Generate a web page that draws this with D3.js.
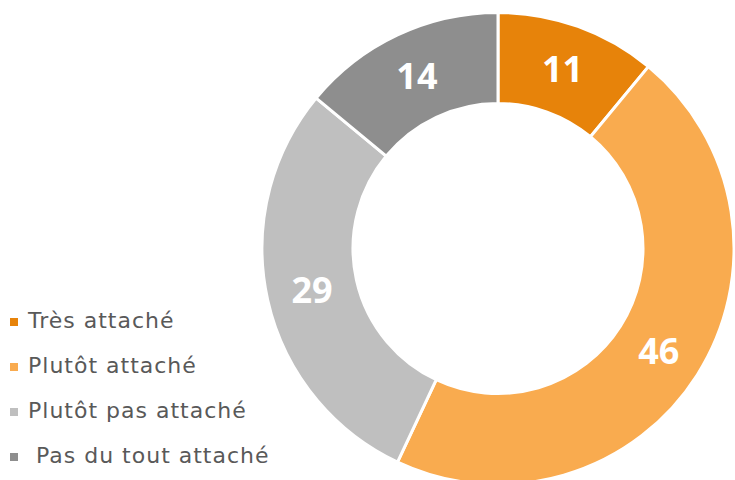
<!DOCTYPE html>
<html><head><meta charset="utf-8">
<script src="https://cdn.jsdelivr.net/npm/d3@7"></script>
<style>body{margin:0;background:#fff}svg{display:block}</style>
</head><body>
<script>
const categories = ["Très attaché", "Plutôt attaché", "Plutôt pas attaché", " Pas du tout attaché"];
const values = [11, 46, 29, 14];
const colors = ["#E7830A", "#F9AB4F", "#BFBFBF", "#8E8E8E"];

const W = 735, H = 480;
const svg = d3.select("body").append("svg").attr("width", W).attr("height", H);
const cx = 498, cy = 248.5, rOuter = 236, rInner = 145;

const pie = d3.pie().sort(null).value(d => d)(values);
const arc = d3.arc().innerRadius(rInner).outerRadius(rOuter);
const g = svg.append("g").attr("transform", `translate(${cx},${cy})`);
g.selectAll("path").data(pie).join("path")
  .attr("d", arc).attr("fill", (d, i) => colors[i])
  .attr("stroke", "#fff").attr("stroke-width", 3).attr("stroke-linejoin", "miter");
g.selectAll("text").data(pie).join("text")
  .attr("transform", d => `translate(${arc.centroid(d)})`)
  .attr("text-anchor", "middle").attr("dy", "0.36em")
  .attr("font-family", "'Open Sans', sans-serif").attr("font-weight", 700)
  .attr("font-size", 36).attr("fill", "#fff")
  .text(d => d.data);

const leg = svg.append("g");
const rows = leg.selectAll("g").data(categories).join("g")
  .attr("transform", (d, i) => `translate(10, ${328 + i * 45})`);
rows.append("rect").attr("x", 0).attr("y", -10).attr("width", 8).attr("height", 8)
  .attr("fill", (d, i) => colors[i]);
rows.append("text").attr("x", 18).attr("y", 0)
  .attr("font-family", "'DejaVu Sans', sans-serif").attr("font-size", 22)
  .attr("letter-spacing", 1)
  .attr("fill", "#595959").style("white-space", "pre")
  .text(d => d);
</script>
</body></html>
